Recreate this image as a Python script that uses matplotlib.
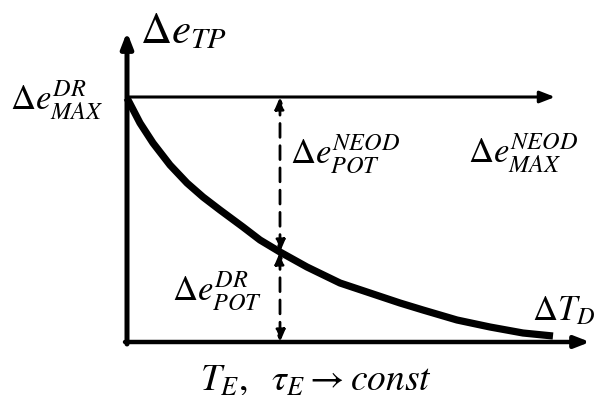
import matplotlib.pyplot as plt

plt.rcParams['mathtext.fontset'] = 'stix'
plt.rcParams['font.family'] = 'Liberation Serif'

# curva potenziale DR in funzione di dT_D
curve_x = [0, 13, 26, 43, 60, 76, 93, 116, 133, 153, 180, 213, 246, 273, 296, 330, 363, 396, 426]
curve_y = [244, 219, 199, 177, 159, 145, 132, 115, 102, 90, 75, 59, 48, 39, 32, 22, 15, 9, 6]

e_max = 245      # livello massimo
x_pot = 153      # posizione della freccia tratteggiata
y_pot = 90       # valore della curva in x_pot
x_axis_end = 463
y_axis_end = 310
top_line_end = 428

fig = plt.figure(figsize=(5.95, 3.95), dpi=100)
ax = fig.add_axes([0, 0, 1, 1])
ax.set_xlim(-127, 468)
ax.set_ylim(-53, 342)
ax.axis('off')

# assi
ax.annotate('', xy=(x_axis_end, 0), xytext=(-2, 0),
            arrowprops=dict(arrowstyle='-|>,head_length=0.9,head_width=0.35', lw=3.2, color='k',
                            shrinkA=0, shrinkB=0))
ax.annotate('', xy=(0, y_axis_end), xytext=(0, -2),
            arrowprops=dict(arrowstyle='-|>,head_length=0.9,head_width=0.35', lw=3.6, color='k',
                            shrinkA=0, shrinkB=0))
ax.annotate('', xy=(top_line_end, e_max), xytext=(0, e_max),
            arrowprops=dict(arrowstyle='-|>,head_length=0.9,head_width=0.35', lw=2.2, color='k',
                            shrinkA=0, shrinkB=0))

# curva
ax.plot(curve_x, curve_y, color='k', lw=5.2, solid_capstyle='butt', solid_joinstyle='round')

# frecce tratteggiate
for y0, y1 in [(y_pot, e_max), (y_pot, 0)]:
    ax.annotate('', xy=(x_pot, y1), xytext=(x_pot, y0),
                arrowprops=dict(arrowstyle='<|-|>,head_length=0.7,head_width=0.3', lw=2,
                                ls=(0, (5, 3)), color='k', shrinkA=0, shrinkB=0))

# etichette
ax.text(13, 299, r'$\Delta e_{TP}$', fontsize=31, ha='left', va='baseline')
ax.text(-117, 232, r'$\Delta e^{DR}_{MAX}$', fontsize=25, ha='left', va='baseline')
ax.text(163, 179, r'$\Delta e^{NEOD}_{POT}$', fontsize=25, ha='left', va='baseline')
ax.text(341, 179, r'$\Delta e^{NEOD}_{MAX}$', fontsize=25, ha='left', va='baseline')
ax.text(45, 42, r'$\Delta e^{DR}_{POT}$', fontsize=25, ha='left', va='baseline')
ax.text(405, 22, r'$\Delta T_D$', fontsize=25, ha='left', va='baseline')
ax.text(73, -48, r'$T_E,\ \ \tau_E \rightarrow const$', fontsize=27, ha='left', va='baseline')

plt.savefig('out.png', dpi=100)
